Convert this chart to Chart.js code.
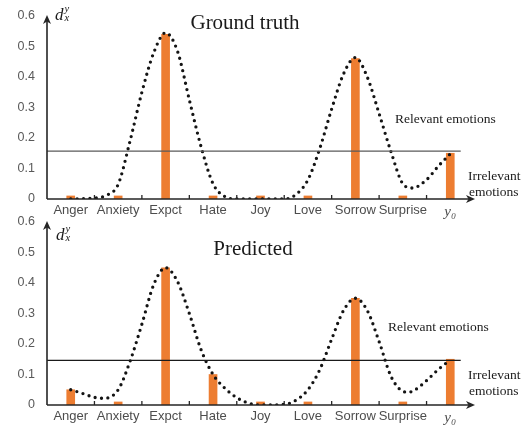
<!DOCTYPE html>
<html><head><meta charset="utf-8">
<script src="https://cdn.jsdelivr.net/npm/chart.js@4.4.1/dist/chart.umd.min.js"></script>
<style>
html,body{margin:0;padding:0;background:#fff;}
#wrap{position:relative;width:524px;height:425px;overflow:hidden;background:#fff;}
canvas{position:absolute;left:0;}
#c1{top:0;} #c2{top:212px;}
</style></head><body>
<div id="wrap"><canvas id="c1" width="524" height="222"></canvas><canvas id="c2" width="524" height="213"></canvas></div>
<script>
// ---- data ----
const categories = ['Anger','Anxiety','Expct','Hate','Joy','Love','Sorrow','Surprise','y\u2080'];
const yTicks = [0, 0.1, 0.2, 0.3, 0.4, 0.5, 0.6];

const truthValues = [0.01, 0.01, 0.54, 0.01, 0.01, 0.01, 0.46, 0.01, 0.15];
const truthThreshold = 0.157;
const truthCurveX = [0, 0.5, 0.75, 1, 1.25, 1.5, 1.75, 2, 2.25, 2.5, 2.75, 3, 3.25, 3.5, 4, 4.5, 4.75, 5, 5.25, 5.5, 5.75, 6, 6.25, 6.5, 6.75, 7, 7.2, 7.5, 7.75, 8];
const truthCurveY = [0.0, 0.003, 0.012, 0.048, 0.19, 0.35, 0.48, 0.545, 0.485, 0.325, 0.17, 0.05, 0.008, 0.0, 0.0, 0.0, 0.015, 0.063, 0.166, 0.295, 0.41, 0.464, 0.40, 0.28, 0.155, 0.05, 0.036, 0.063, 0.108, 0.148];

const predValues = [0.05, 0.01, 0.45, 0.10, 0.01, 0.01, 0.35, 0.01, 0.15];
const predThreshold = 0.146;
const predCurveX = [0, 0.25, 0.5, 0.7, 1, 1.25, 1.5, 1.75, 2, 2.25, 2.5, 2.75, 3, 3.25, 3.5, 3.75, 4, 4.5, 4.75, 5, 5.25, 5.5, 5.75, 6, 6.25, 6.5, 6.75, 7, 7.12, 7.25, 7.5, 7.75, 8];
const predCurveY = [0.05, 0.038, 0.025, 0.022, 0.05, 0.143, 0.265, 0.395, 0.45, 0.405, 0.30, 0.18, 0.10, 0.055, 0.024, 0.006, 0.0, 0.002, 0.016, 0.05, 0.116, 0.216, 0.31, 0.35, 0.31, 0.208, 0.094, 0.045, 0.042, 0.049, 0.08, 0.117, 0.148];

const titles = ['Ground truth', 'Predicted'];
const relevantText = 'Relevant emotions';
const irrelevantText = ['Irrelevant', 'emotions'];

// ---- drawing ----
const SANS = "'Liberation Sans', Arial, sans-serif";
const SERIF = "'Liberation Serif', 'Times New Roman', serif";

function panelPlugin(p) {
  return {
    id: 'panelDeco',
    afterDatasetsDraw(chart) {
      const {ctx, chartArea: a, scales} = chart;
      const x = scales.x, y = scales.y;
      const n = categories.length;
      const w = x.width / n;
      ctx.save();
      // threshold line
      const ty = y.getPixelForValue(p.threshold);
      ctx.strokeStyle = p.thrColor; ctx.lineWidth = 1.2;
      ctx.beginPath(); ctx.moveTo(a.left, ty); ctx.lineTo(x.getPixelForTick(n - 1) + 0.22 * w, ty); ctx.stroke();
      // axes
      ctx.strokeStyle = '#262626'; ctx.fillStyle = '#262626'; ctx.lineWidth = 1.6;
      ctx.beginPath();
      ctx.moveTo(a.left, a.bottom); ctx.lineTo(a.right - 5, a.bottom);
      ctx.moveTo(a.left, a.bottom); ctx.lineTo(a.left, a.top + 5);
      ctx.stroke();
      ctx.beginPath();
      ctx.moveTo(a.right + 1, a.bottom); ctx.lineTo(a.right - 8, a.bottom - 4); ctx.lineTo(a.right - 5.5, a.bottom); ctx.lineTo(a.right - 8, a.bottom + 4); ctx.closePath(); ctx.fill();
      ctx.beginPath();
      ctx.moveTo(a.left, a.top - 1); ctx.lineTo(a.left - 4, a.top + 8); ctx.lineTo(a.left, a.top + 5.5); ctx.lineTo(a.left + 4, a.top + 8); ctx.closePath(); ctx.fill();
      // category boundary ticks
      ctx.lineWidth = 1.3;
      for (let k = 1; k < n; k++) {
        const bx = (x.getPixelForTick(k - 1) + x.getPixelForTick(k)) / 2;
        ctx.beginPath(); ctx.moveTo(bx, a.bottom); ctx.lineTo(bx, a.bottom - 4); ctx.stroke();
      }
      // texts
      ctx.fillStyle = '#1a1a1a';
      ctx.textBaseline = 'alphabetic';
      ctx.font = '21px ' + SERIF; ctx.textAlign = 'center';
      ctx.fillText(p.title, p.titleX, p.titleY);
      ctx.textAlign = 'left';
      ctx.font = 'italic 17px ' + SERIF;
      ctx.fillText('d', p.dX, p.dY);
      ctx.font = 'italic 10.5px ' + SERIF;
      ctx.fillText('y', p.dX + 9.5, p.dY - 8.5);
      ctx.fillText('x', p.dX + 9.5, p.dY + 1);
      ctx.font = '13.5px ' + SERIF;
      ctx.fillText(relevantText, p.relX, p.relY);
      ctx.fillText(irrelevantText[0], p.irrX, p.irrY);
      ctx.fillText(irrelevantText[1], p.irrX + 1, p.irrY + 16);
      ctx.restore();
    }
  };
}

function makeChart(id, values, curveX, curveY, p) {
  const curve = curveX.map((v, i) => ({x: v, y: curveY[i]}));
  const n = categories.length;
  return new Chart(document.getElementById(id), {
    data: {
      labels: categories,
      datasets: [
        {
          type: 'line', data: curve, xAxisID: 'x2', yAxisID: 'y',
          borderColor: '#141414', borderWidth: 3.3, borderDash: [0, 6.4], borderCapStyle: 'round',
          pointRadius: 0, cubicInterpolationMode: 'monotone', fill: false, order: 0
        },
        {
          type: 'bar', data: values, xAxisID: 'x', yAxisID: 'y', grouped: false,
          backgroundColor: '#ED7D31', barThickness: 8, order: 1
        }
      ]
    },
    options: {
      responsive: false, animation: false, devicePixelRatio: 1,
      layout: {padding: {top: p.padTop, right: 50, left: 0, bottom: 0}},
      plugins: {legend: {display: false}, tooltip: {enabled: false}, title: {display: false}},
      scales: {
        x: {
          type: 'category', offset: true,
          grid: {display: false, drawTicks: false}, border: {display: false},
          ticks: {
            autoSkip: false, maxRotation: 0, padding: p.xPad,
            color: '#4d4d4d',
            font: (c) => c.index === n - 1 ? {family: SERIF, size: 15, style: 'italic'} : {family: SANS, size: 13}
          },
          afterFit: (s) => { s.height = p.xHeight; s.paddingLeft = 0; s.paddingRight = 0; }
        },
        x2: {type: 'linear', min: -0.5, max: n - 0.5, display: false},
        y: {
          min: 0, max: 0.6,
          grid: {display: false, drawTicks: false}, border: {display: false},
          afterBuildTicks: (s) => { s.ticks = yTicks.map(v => ({value: v})); },
          ticks: {
            padding: 12, color: '#595959', font: {family: SANS, size: 12.5},
            callback: (v) => v === 0 ? '0' : Number(v).toFixed(1)
          },
          afterFit: (s) => { s.width = 47; s.paddingTop = 0; s.paddingBottom = 0; }
        }
      }
    },
    plugins: [panelPlugin(p)]
  });
}

makeChart('c1', truthValues, truthCurveX, truthCurveY, {
  padTop: 16, xHeight: 23, xPad: 4, threshold: truthThreshold, thrColor: '#5a5a5a',
  title: titles[0], titleX: 245, titleY: 29,
  dX: 55, dY: 20, relX: 395, relY: 123, irrX: 468, irrY: 180
});
makeChart('c2', predValues, predCurveX, predCurveY, {
  padTop: 10, xHeight: 20, xPad: 4, threshold: predThreshold, thrColor: '#1a1a1a',
  title: titles[1], titleX: 253, titleY: 43,
  dX: 56, dY: 28, relX: 388, relY: 119, irrX: 468, irrY: 166.5
});
</script>
</body></html>
